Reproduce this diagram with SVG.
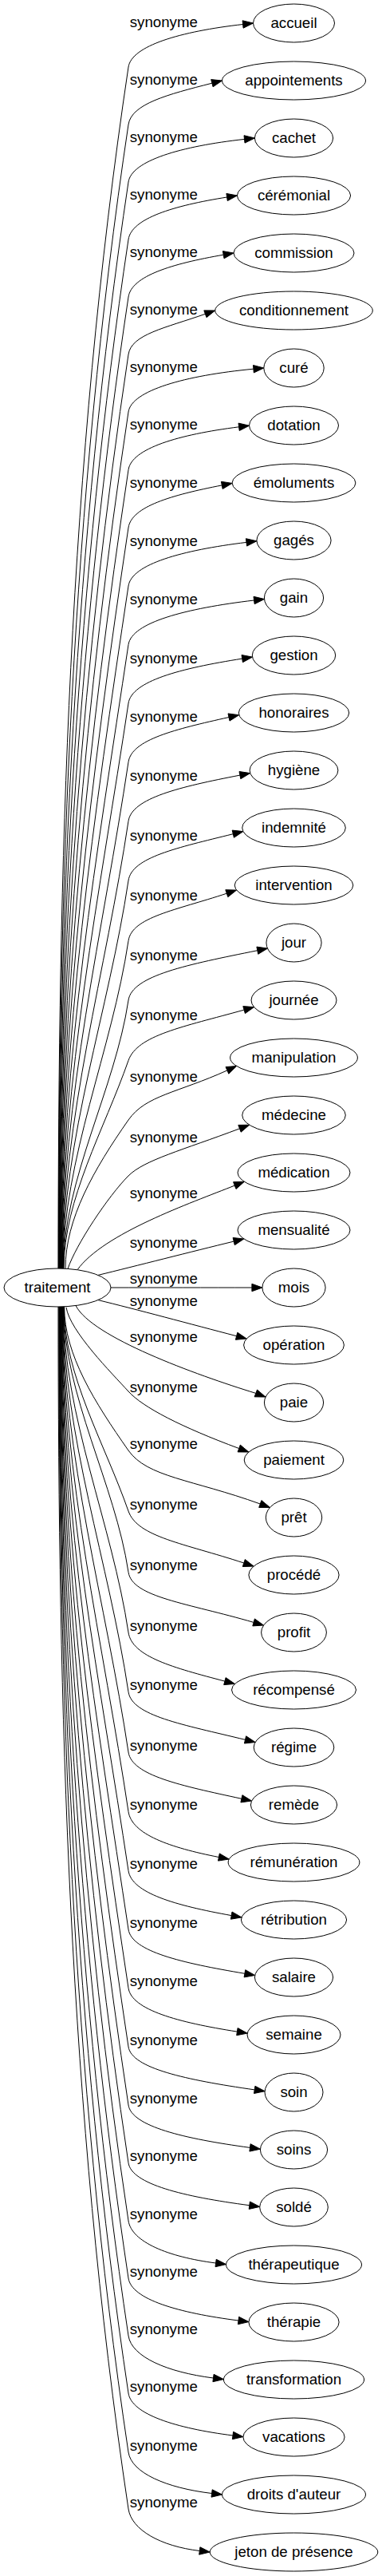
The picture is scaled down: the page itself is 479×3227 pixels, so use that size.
<svg xmlns="http://www.w3.org/2000/svg" width="479" height="3227" viewBox="0 0 479 3227">
<style>
text{font-family:"Liberation Sans",Arial,sans-serif;font-size:18.67px;text-anchor:middle;fill:#000}
.node ellipse{fill:#fff;stroke:#000;stroke-width:1}
.edge path{fill:none;stroke:#000;stroke-width:1}
.edge polygon{fill:#000;stroke:#000;stroke-width:1}
</style>
<rect x="0" y="0" width="479" height="3227" fill="#fff"/>
<g id="edges">
<g class="edge" id="e-accueil"><path d="M73,1589C73,1087.3 85.7,585.7 161,84C165,57.3 226.1,39.4 304.6,30.5"/><polygon points="305.1,35.2 317.5,29 304.1,25.8"/><text x="205.3" y="33.5">synonyme</text></g>
<g class="edge" id="e-appointements"><path d="M73.4,1589C73.4,1111.3 89.3,633.7 161,156C164.9,130.1 210,118.4 265.9,104.2"/><polygon points="267.1,108.8 278.5,101 264.7,99.6"/><text x="205.3" y="105.5">synonyme</text></g>
<g class="edge" id="e-cachet"><path d="M73.8,1589C73.8,1135.3 93,681.7 161,228C165,201.2 227,183.2 306.5,174.4"/><polygon points="307,179.1 319.4,173 306,169.7"/><text x="205.3" y="177.5">synonyme</text></g>
<g class="edge" id="e-ceremonial"><path d="M74.2,1589C74.2,1159.3 96.5,729.7 161,300C165,273.5 217.4,257.7 284.6,247"/><polygon points="285.3,251.6 297.4,245 283.9,242.4"/><text x="205.3" y="249.5">synonyme</text></g>
<g class="edge" id="e-commission"><path d="M74.6,1589C74.6,1183.3 100.1,777.7 161,372C165,345.6 215.6,330.4 280.2,319.2"/><polygon points="281,323.8 293,317 279.4,314.6"/><text x="205.3" y="321.5">synonyme</text></g>
<g class="edge" id="e-conditionnement"><path d="M75,1589C75,1207.3 103.7,825.7 161,444C164.8,418.7 207.4,410.9 257.4,393.3"/><polygon points="259,397.7 269.7,389 255.8,388.9"/><text x="205.3" y="393.5">synonyme</text></g>
<g class="edge" id="e-cure"><path d="M75.4,1589C75.4,1231.3 107.3,873.7 161,516C165,489.1 232,470.4 317.9,462.2"/><polygon points="318.3,466.9 330.8,461 317.5,457.5"/><text x="205.3" y="465.5">synonyme</text></g>
<g class="edge" id="e-dotation"><path d="M75.8,1589C75.8,1255.5 111,922 161,588.5C165,561.7 224,544.4 299.6,534.8"/><polygon points="300.2,539.5 312.5,533.2 299,530.1"/><text x="205.3" y="538">synonyme</text></g>
<g class="edge" id="e-emoluments"><path d="M76.2,1589C76.2,1279.7 114.6,970.3 161,661C165,634.5 215,620.2 278.3,607.9"/><polygon points="279.2,612.5 291.1,605.4 277.4,603.3"/><text x="205.3" y="610.5">synonyme</text></g>
<g class="edge" id="e-gages"><path d="M76.6,1589C76.6,1304 118.2,1019 161,734C165.1,706.7 228.2,689.3 309,679.4"/><polygon points="309.6,684.1 321.9,677.8 308.4,674.7"/><text x="205.3" y="683.5">synonyme</text></g>
<g class="edge" id="e-gain"><path d="M77,1589C77,1328.5 121.9,1068 161,807.5C165.2,779.8 232.5,762.2 318.6,752"/><polygon points="319.2,756.7 331.5,750.5 318,747.3"/><text x="205.3" y="757">synonyme</text></g>
<g class="edge" id="e-gestion"><path d="M77.4,1589C77.4,1353 125.6,1117 161,881C165.2,853.1 226.1,837.3 303.7,825.1"/><polygon points="304.4,829.7 316.5,823.1 303,820.5"/><text x="205.3" y="830.5">synonyme</text></g>
<g class="edge" id="e-honoraires"><path d="M77.8,1589C77.8,1377.5 129.3,1166 161,954.5C165.2,926.5 219.4,913.6 287,898.5"/><polygon points="288,903.1 299.7,895.7 286,893.9"/><text x="205.3" y="904">synonyme</text></g>
<g class="edge" id="e-hygiene"><path d="M78.2,1589C78.2,1402.2 133,1215.3 161,1028.5C165.3,999.8 225.4,985.7 300.9,971.1"/><polygon points="301.8,975.7 313.7,968.6 300,966.5"/><text x="205.3" y="978">synonyme</text></g>
<g class="edge" id="e-indemnite"><path d="M78.6,1589C78.6,1427 136.7,1265 161,1103C165.4,1073.9 222.2,1062.1 292.3,1044.7"/><polygon points="293.4,1049.3 304.9,1041.6 291.2,1040.1"/><text x="205.3" y="1052.5">synonyme</text></g>
<g class="edge" id="e-intervention"><path d="M79,1589C79,1452.2 140.5,1315.3 161,1178.5C165.4,1148.9 219.9,1140.5 284.3,1119.2"/><polygon points="285.8,1123.7 296.6,1115.1 282.8,1114.7"/><text x="205.3" y="1128">synonyme</text></g>
<g class="edge" id="e-jour"><path d="M79.4,1589C79.4,1477 144.2,1365 161,1253C165.7,1221.9 235.6,1208.3 322.8,1190.7"/><polygon points="323.7,1195.3 335.5,1188.1 321.9,1186.1"/><text x="205.3" y="1202.5">synonyme</text></g>
<g class="edge" id="e-journee"><path d="M80,1589C80,1502.2 130.6,1415.3 161,1328.5C172.1,1296.8 229.2,1286.5 306.1,1265.1"/><polygon points="307.4,1269.6 318.6,1261.6 304.8,1260.6"/><text x="205.3" y="1278">synonyme</text></g>
<g class="edge" id="e-manipulation"><path d="M82,1589C82,1527 117.6,1465 161,1403C182.7,1372 222.9,1369 284.9,1340.9"/><polygon points="286.8,1345.2 296.7,1335.5 283,1336.6"/><text x="205.3" y="1354.5">synonyme</text></g>
<g class="edge" id="e-medecine"><path d="M85,1589.5C95,1559.5 136,1498 161,1473C181,1453 228.7,1440.9 300.5,1413.8"/><polygon points="302.2,1418.2 312.7,1409.2 298.8,1409.4"/><text x="205.3" y="1430.5">synonyme</text></g>
<g class="edge" id="e-medication"><path d="M97,1590.7C130,1545 238.6,1507.3 294.3,1485.1"/><polygon points="296,1489.5 306.4,1480.3 292.6,1480.7"/><text x="205.3" y="1500.5">synonyme</text></g>
<g class="edge" id="e-mensualite"><path d="M123,1597.4C170,1586 240,1568 293.2,1555.1"/><polygon points="294.3,1559.7 305.8,1552 292.1,1550.5"/><text x="205.3" y="1562.5">synonyme</text></g>
<g class="edge" id="e-mois"><path d="M139,1613C200,1613 260,1613 315.9,1613"/><polygon points="315.9,1617.7 328.9,1613 315.9,1608.3"/><text x="205.3" y="1607.5">synonyme</text></g>
<g class="edge" id="e-operation"><path d="M123,1628.6C170,1640 240,1659 296.6,1673.7"/><polygon points="295.4,1678.3 309.2,1677 297.8,1669.2"/><text x="205.3" y="1635.5">synonyme</text></g>
<g class="edge" id="e-paie"><path d="M95,1635.5C115,1675 245,1722 320.8,1745.4"/><polygon points="319.1,1749.8 333,1750 322.5,1741"/><text x="205.3" y="1680.5">synonyme</text></g>
<g class="edge" id="e-paiement"><path d="M83,1637.8C88,1668 140,1720 161,1743C179,1763 228.1,1788 299.7,1814.5"/><polygon points="298.1,1818.9 311.9,1819 301.3,1810.1"/><text x="205.3" y="1743.5">synonyme</text></g>
<g class="edge" id="e-pret"><path d="M80.6,1637C80.6,1697 119,1757 161,1817C184.5,1850.5 240.8,1853.2 326.3,1884"/><polygon points="324.7,1888.4 338.5,1888.4 327.9,1879.6"/><text x="205.3" y="1814.5">synonyme</text></g>
<g class="edge" id="e-procede"><path d="M80.2,1637C80.2,1722.3 131.1,1807.7 161,1893C172.4,1925.5 230.2,1933.2 305.8,1958"/><polygon points="304.3,1962.5 318.1,1962.1 307.3,1953.5"/><text x="205.3" y="1890.5">synonyme</text></g>
<g class="edge" id="e-profit"><path d="M79.8,1637C79.8,1747.8 144.4,1858.7 161,1969.5C165.7,2001 235.2,2008.2 318.1,2032.4"/><polygon points="316.8,2036.9 330.6,2036 319.4,2027.9"/><text x="205.3" y="1967">synonyme</text></g>
<g class="edge" id="e-recompense"><path d="M79.4,1637C79.4,1773 140.6,1909 161,2045C165.6,2075.6 217.6,2089.1 281.9,2106.1"/><polygon points="280.7,2110.6 294.5,2109.4 283.1,2101.6"/><text x="205.3" y="2042.5">synonyme</text></g>
<g class="edge" id="e-regime"><path d="M79,1637C79,1797.8 136.9,1958.7 161,2119.5C165.5,2149.5 229.2,2160.3 307.5,2179.4"/><polygon points="306.4,2184 320.1,2182.5 308.6,2174.8"/><text x="205.3" y="2117">synonyme</text></g>
<g class="edge" id="e-remede"><path d="M78.6,1637C78.6,1823 133.1,2009 161,2195C165.4,2224.2 226.7,2236.8 302.9,2253.3"/><polygon points="301.9,2257.9 315.6,2256 303.9,2248.7"/><text x="205.3" y="2192.5">synonyme</text></g>
<g class="edge" id="e-remuneration"><path d="M78.2,1637C78.2,1847.8 129.4,2058.7 161,2269.5C165.3,2298 213.2,2314.5 274.4,2326.5"/><polygon points="273.5,2331.1 287.2,2329 275.3,2321.9"/><text x="205.3" y="2267">synonyme</text></g>
<g class="edge" id="e-retribution"><path d="M77.8,1637C77.8,1872.5 125.7,2108 161,2343.5C165.2,2371.6 220.2,2387 290.2,2399.6"/><polygon points="289.4,2404.2 303,2401.9 291,2395"/><text x="205.3" y="2341">synonyme</text></g>
<g class="edge" id="e-salaire"><path d="M77.4,1637C77.4,1897 122,2157 161,2417C165.2,2444.7 227.8,2459 306.9,2472.3"/><polygon points="306.1,2476.9 319.7,2474.5 307.7,2467.7"/><text x="205.3" y="2414.5">synonyme</text></g>
<g class="edge" id="e-semaine"><path d="M77,1637C77,1921.5 118.3,2206 161,2490.5C165.1,2517.8 223.3,2533.5 297.4,2545.1"/><polygon points="296.7,2549.7 310.2,2547.1 298.1,2540.5"/><text x="205.3" y="2488">synonyme</text></g>
<g class="edge" id="e-soin"><path d="M76.6,1637C76.6,1946 114.6,2255 161,2564C165,2591 233.1,2605.5 319.2,2617.9"/><polygon points="318.5,2622.5 332.1,2619.7 319.9,2613.3"/><text x="205.3" y="2561.5">synonyme</text></g>
<g class="edge" id="e-soins"><path d="M76.2,1637C76.2,1970.3 111,2303.7 161,2637C165,2663.7 230.4,2679.1 313.5,2690.4"/><polygon points="312.9,2695.1 326.4,2692.2 314.1,2685.7"/><text x="205.3" y="2634.5">synonyme</text></g>
<g class="edge" id="e-solde"><path d="M75.8,1637C75.8,1994.5 107.4,2352 161,2709.5C165,2736.1 230,2751.8 312.8,2762.7"/><polygon points="312.2,2767.4 325.7,2764.4 313.4,2758"/><text x="205.3" y="2707">synonyme</text></g>
<g class="edge" id="e-therapeutique"><path d="M75.4,1637C75.4,2018.7 103.7,2400.3 161,2782C165,2808.5 210.8,2827.3 270.6,2835"/><polygon points="270,2839.7 283.5,2836.6 271.2,2830.3"/><text x="205.3" y="2779.5">synonyme</text></g>
<g class="edge" id="e-therapie"><path d="M75,1637C75,2042.7 100.1,2448.3 161,2854C165,2880.5 223.7,2897.4 299,2907"/><polygon points="298.4,2911.7 311.9,2908.6 299.6,2902.3"/><text x="205.3" y="2851.5">synonyme</text></g>
<g class="edge" id="e-transformation"><path d="M74.6,1637C74.6,2066.7 96.5,2496.3 161,2926C165,2952.5 209.4,2971.6 267.5,2979"/><polygon points="266.9,2983.7 280.4,2980.6 268.1,2974.3"/><text x="205.3" y="2923.5">synonyme</text></g>
<g class="edge" id="e-vacations"><path d="M74.2,1637C74.2,2090.7 93,2544.3 161,2998C165,3024.5 220.6,3041.9 292,3051"/><polygon points="291.4,3055.7 304.9,3052.6 292.6,3046.3"/><text x="205.3" y="2995.5">synonyme</text></g>
<g class="edge" id="e-droits"><path d="M73.8,1637C73.8,2115.3 89.2,2593.7 161,3072C164.9,3097.8 208.5,3116.7 265.6,3123.5"/><polygon points="265,3128.2 278.5,3125 266.2,3118.8"/><text x="205.3" y="3069.5">synonyme</text></g>
<g class="edge" id="e-jeton"><path d="M73,1637C73,2139 85.7,2641 161,3143C164.9,3169.3 201.5,3189.7 250.3,3195.5"/><polygon points="249.7,3200.2 263.2,3197 250.9,3190.8"/><text x="205.3" y="3140.5">synonyme</text></g>
</g>
<g class="node" id="n-traitement"><ellipse cx="72" cy="1613" rx="67" ry="24"/><text x="72" y="1618.6">traitement</text></g>
<g class="node" id="n-accueil"><ellipse cx="368.5" cy="29" rx="51" ry="24"/><text x="368.5" y="34.6">accueil</text></g>
<g class="node" id="n-appointements"><ellipse cx="368.5" cy="101" rx="90" ry="24"/><text x="368.5" y="106.6">appointements</text></g>
<g class="node" id="n-cachet"><ellipse cx="368.5" cy="173" rx="49.1" ry="24"/><text x="368.5" y="178.6">cachet</text></g>
<g class="node" id="n-ceremonial"><ellipse cx="368.5" cy="245" rx="71.1" ry="24"/><text x="368.5" y="250.6">cérémonial</text></g>
<g class="node" id="n-commission"><ellipse cx="368.5" cy="317" rx="75.5" ry="24"/><text x="368.5" y="322.6">commission</text></g>
<g class="node" id="n-conditionnement"><ellipse cx="368.5" cy="389" rx="98.8" ry="24"/><text x="368.5" y="394.6">conditionnement</text></g>
<g class="node" id="n-cure"><ellipse cx="368.5" cy="461" rx="37.7" ry="24"/><text x="368.5" y="466.6">curé</text></g>
<g class="node" id="n-dotation"><ellipse cx="368.5" cy="533" rx="56" ry="24"/><text x="368.5" y="538.6">dotation</text></g>
<g class="node" id="n-emoluments"><ellipse cx="368.5" cy="605" rx="77.4" ry="24"/><text x="368.5" y="610.6">émoluments</text></g>
<g class="node" id="n-gages"><ellipse cx="368.5" cy="677" rx="46.6" ry="24"/><text x="368.5" y="682.6">gagés</text></g>
<g class="node" id="n-gain"><ellipse cx="368.5" cy="749" rx="37.1" ry="24"/><text x="368.5" y="754.6">gain</text></g>
<g class="node" id="n-gestion"><ellipse cx="368.5" cy="821" rx="52.2" ry="24"/><text x="368.5" y="826.6">gestion</text></g>
<g class="node" id="n-honoraires"><ellipse cx="368.5" cy="893" rx="69.2" ry="24"/><text x="368.5" y="898.6">honoraires</text></g>
<g class="node" id="n-hygiene"><ellipse cx="368.5" cy="965" rx="55.4" ry="24"/><text x="368.5" y="970.6">hygiène</text></g>
<g class="node" id="n-indemnite"><ellipse cx="368.5" cy="1037" rx="64.8" ry="24"/><text x="368.5" y="1042.6">indemnité</text></g>
<g class="node" id="n-intervention"><ellipse cx="368.5" cy="1109" rx="74.3" ry="24"/><text x="368.5" y="1114.6">intervention</text></g>
<g class="node" id="n-jour"><ellipse cx="368.5" cy="1181" rx="34.6" ry="24"/><text x="368.5" y="1186.6">jour</text></g>
<g class="node" id="n-journee"><ellipse cx="368.5" cy="1253" rx="53.5" ry="24"/><text x="368.5" y="1258.6">journée</text></g>
<g class="node" id="n-manipulation"><ellipse cx="368.5" cy="1325" rx="79.9" ry="24"/><text x="368.5" y="1330.6">manipulation</text></g>
<g class="node" id="n-medecine"><ellipse cx="368.5" cy="1397" rx="64.8" ry="24"/><text x="368.5" y="1402.6">médecine</text></g>
<g class="node" id="n-medication"><ellipse cx="368.5" cy="1469" rx="70.5" ry="24"/><text x="368.5" y="1474.6">médication</text></g>
<g class="node" id="n-mensualite"><ellipse cx="368.5" cy="1541" rx="70.5" ry="24"/><text x="368.5" y="1546.6">mensualité</text></g>
<g class="node" id="n-mois"><ellipse cx="368.5" cy="1613" rx="39.6" ry="24"/><text x="368.5" y="1618.6">mois</text></g>
<g class="node" id="n-operation"><ellipse cx="368.5" cy="1685" rx="62.9" ry="24"/><text x="368.5" y="1690.6">opération</text></g>
<g class="node" id="n-paie"><ellipse cx="368.5" cy="1757" rx="37.1" ry="24"/><text x="368.5" y="1762.6">paie</text></g>
<g class="node" id="n-paiement"><ellipse cx="368.5" cy="1829" rx="62.3" ry="24"/><text x="368.5" y="1834.6">paiement</text></g>
<g class="node" id="n-pret"><ellipse cx="368.5" cy="1901" rx="35.2" ry="24"/><text x="368.5" y="1906.6">prêt</text></g>
<g class="node" id="n-procede"><ellipse cx="368.5" cy="1973" rx="56.6" ry="24"/><text x="368.5" y="1978.6">procédé</text></g>
<g class="node" id="n-profit"><ellipse cx="368.5" cy="2045" rx="40.9" ry="24"/><text x="368.5" y="2050.6">profit</text></g>
<g class="node" id="n-recompense"><ellipse cx="368.5" cy="2117" rx="78" ry="24"/><text x="368.5" y="2122.6">récompensé</text></g>
<g class="node" id="n-regime"><ellipse cx="368.5" cy="2189" rx="50.3" ry="24"/><text x="368.5" y="2194.6">régime</text></g>
<g class="node" id="n-remede"><ellipse cx="368.5" cy="2261" rx="54.1" ry="24"/><text x="368.5" y="2266.6">remède</text></g>
<g class="node" id="n-remuneration"><ellipse cx="368.5" cy="2333" rx="82.4" ry="24"/><text x="368.5" y="2338.6">rémunération</text></g>
<g class="node" id="n-retribution"><ellipse cx="368.5" cy="2405" rx="66.1" ry="24"/><text x="368.5" y="2410.6">rétribution</text></g>
<g class="node" id="n-salaire"><ellipse cx="368.5" cy="2477" rx="49.1" ry="24"/><text x="368.5" y="2482.6">salaire</text></g>
<g class="node" id="n-semaine"><ellipse cx="368.5" cy="2549" rx="58.5" ry="24"/><text x="368.5" y="2554.6">semaine</text></g>
<g class="node" id="n-soin"><ellipse cx="368.5" cy="2621" rx="36.5" ry="24"/><text x="368.5" y="2626.6">soin</text></g>
<g class="node" id="n-soins"><ellipse cx="368.5" cy="2693" rx="42.1" ry="24"/><text x="368.5" y="2698.6">soins</text></g>
<g class="node" id="n-solde"><ellipse cx="368.5" cy="2765" rx="42.8" ry="24"/><text x="368.5" y="2770.6">soldé</text></g>
<g class="node" id="n-therapeutique"><ellipse cx="368.5" cy="2837" rx="85" ry="24"/><text x="368.5" y="2842.6">thérapeutique</text></g>
<g class="node" id="n-therapie"><ellipse cx="368.5" cy="2909" rx="56.6" ry="24"/><text x="368.5" y="2914.6">thérapie</text></g>
<g class="node" id="n-transformation"><ellipse cx="368.5" cy="2981" rx="88.1" ry="24"/><text x="368.5" y="2986.6">transformation</text></g>
<g class="node" id="n-vacations"><ellipse cx="368.5" cy="3053" rx="63.6" ry="24"/><text x="368.5" y="3058.6">vacations</text></g>
<g class="node" id="n-droits"><ellipse cx="368.5" cy="3125" rx="90" ry="24"/><text x="368.5" y="3130.6">droits d'auteur</text></g>
<g class="node" id="n-jeton"><ellipse cx="368.5" cy="3197" rx="105.3" ry="24"/><text x="368.5" y="3202.6">jeton de présence</text></g>
</svg>
